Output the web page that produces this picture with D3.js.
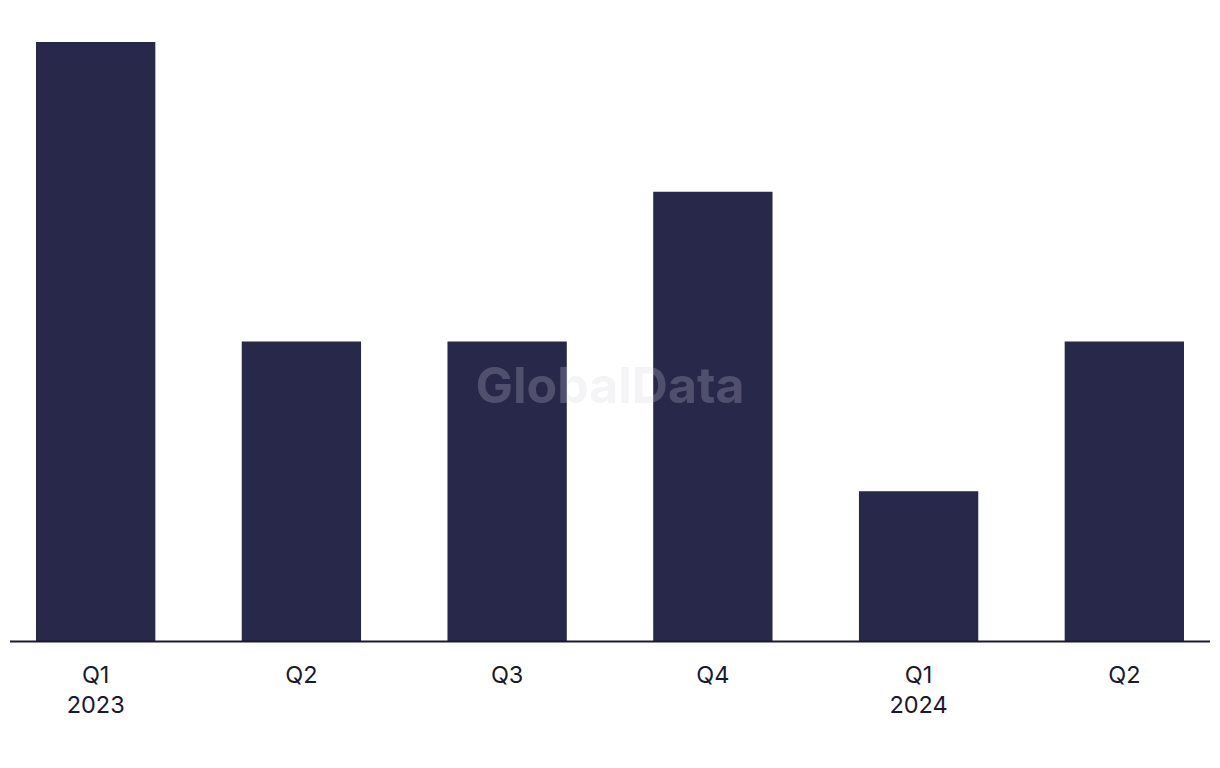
<!DOCTYPE html>
<html>
<head>
<meta charset="utf-8">
<script src="https://cdn.jsdelivr.net/npm/d3@7"></script>
<style>
  html, body { margin: 0; padding: 0; background: #fff; }
  svg { display: block; }
</style>
</head>
<body>
<svg id="chart" width="1220" height="768"></svg>
<script>
const quarters = ["Q1", "Q2", "Q3", "Q4", "Q1", "Q2"];
const years = ["2023", "", "", "", "2024", ""];
const values = [4, 2, 2, 3, 1, 2];

const svg = d3.select("#chart");
const ids = values.map((d, i) => i);

const x = d3.scaleBand().domain(ids).range([36, 1184]).paddingInner(0.42).paddingOuter(0);
const y = d3.scaleLinear().domain([0, 4]).range([641, 42]);

svg.append("g").selectAll("rect").data(ids).join("rect")
  .attr("x", i => x(i))
  .attr("y", i => y(values[i]))
  .attr("width", x.bandwidth())
  .attr("height", i => y(0) - y(values[i]))
  .attr("fill", "#28284b");

svg.append("line")
  .attr("x1", 10).attr("x2", 1210)
  .attr("y1", 641.5).attr("y2", 641.5)
  .attr("stroke", "#1a1a2e").attr("stroke-width", 2);

const lab = svg.append("g")
  .attr("font-family", "Inter, 'Noto Sans', sans-serif")
  .attr("font-size", 23.5)
  .attr("fill", "#1a1a2e")
  .attr("text-anchor", "middle");

lab.selectAll("text.q").data(ids).join("text").attr("class", "q")
  .attr("x", i => x(i) + x.bandwidth() / 2)
  .attr("y", 683)
  .text(i => quarters[i]);

lab.selectAll("text.y").data(ids.filter(i => years[i])).join("text").attr("class", "y")
  .attr("x", i => x(i) + x.bandwidth() / 2)
  .attr("y", 713)
  .text(i => years[i]);

svg.append("text")
  .attr("x", 610).attr("y", 403)
  .attr("text-anchor", "middle")
  .attr("font-family", "Inter, 'Noto Sans', sans-serif")
  .attr("font-weight", 700)
  .attr("font-size", 50)
  .attr("fill", "#cfcfdf")
  .attr("fill-opacity", 0.24)
  .text("GlobalData");
</script>
</body>
</html>
